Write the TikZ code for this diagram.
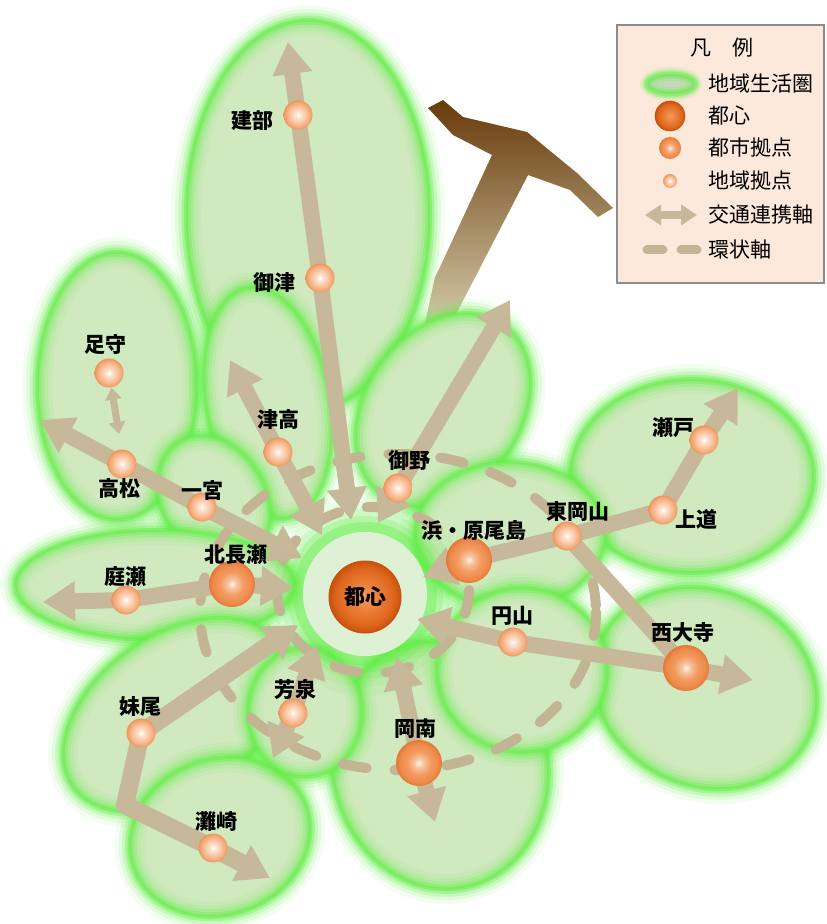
\documentclass[tikz,border=0pt]{standalone}
\usepackage{fontspec}
\newfontfamily\jp{Noto Sans CJK JP}
\usetikzlibrary{arrows.meta}

% palette
\definecolor{zonefill}{HTML}{D0E9BF}
\definecolor{zoneglow}{HTML}{62EE46}
\definecolor{corefill}{HTML}{DFF1D5}
\definecolor{axiscol}{HTML}{C6B898}
\definecolor{ringcol}{HTML}{C3B494}
\definecolor{legendbg}{HTML}{FDE9DC}
\definecolor{legendline}{HTML}{8C8C8C}
\definecolor{hilltop}{HTML}{683A0A}
\definecolor{hillbottom}{HTML}{D3C9A8}
\definecolor{coreA}{HTML}{F29A5E}
\definecolor{coreB}{HTML}{EA7C36}
\definecolor{coreC}{HTML}{DE661C}
\definecolor{coreD}{HTML}{C7520E}
\definecolor{cityA}{HTML}{FFF3EA}
\definecolor{cityB}{HTML}{F8C3A0}
\definecolor{cityC}{HTML}{F29B60}
\definecolor{cityD}{HTML}{EE8A4A}
\definecolor{cityE}{HTML}{E27838}
\definecolor{localA}{HTML}{FFFFFF}
\definecolor{localB}{HTML}{FDE5D4}
\definecolor{localC}{HTML}{F9C4A0}
\definecolor{localD}{HTML}{F3A672}
\definecolor{localE}{HTML}{EB955C}

% spherical look of the three kinds of centres
\pgfdeclareradialshading{coreshade}{\pgfpoint{0bp}{0bp}}{%
  color(0bp)=(coreA); color(11bp)=(coreB); color(20bp)=(coreC); color(25bp)=(coreD); color(50bp)=(coreD)}
\pgfdeclareradialshading{cityshade}{\pgfpoint{0bp}{0bp}}{%
  color(0bp)=(cityA); color(5bp)=(cityB); color(13bp)=(cityC); color(21bp)=(cityD); color(25bp)=(cityE); color(50bp)=(cityE)}
\pgfdeclareradialshading{localshade}{\pgfpoint{0bp}{0bp}}{%
  color(0bp)=(localA); color(5bp)=(localB); color(14bp)=(localC); color(22bp)=(localD); color(25bp)=(localE); color(50bp)=(localE)}

\pgfdeclarelayer{zones}
\pgfdeclarelayer{axes}
\pgfsetlayers{zones,axes,main}

% a living zone: filled ellipse with a soft green rim
% #1,#2 centre  #3,#4 radii  #5 rotation
\newcommand\lifezone[5]{%
  \fill[zonefill, rotate around={#5:(#1,#2)}] (#1,#2) ellipse ({#3} and {#4});
  \foreach \lw/\op in {15pt/.07,11pt/.12,7.5pt/.2,4.5pt/.32,2pt/.5}
    \draw[zoneglow, line width=\lw, opacity=\op, rotate around={#5:(#1,#2)}] (#1,#2) ellipse ({#3} and {#4});
}

\begin{document}
\begin{tikzpicture}[x=0.5pt, y=-0.5pt,
  labeltext/.style={font=\jp\bfseries\fontsize{10.5}{12}\selectfont, inner sep=0pt},
  keytext/.style={font=\jp\fontsize{10.5}{12}\selectfont, inner sep=0pt, anchor=west},
  corenode/.style={circle, minimum size=36pt, inner sep=0pt, shading=coreshade, draw=coreD, line width=0.5pt, labeltext},
  citynode/.style={circle, minimum size=23pt, inner sep=0pt, shading=cityshade},
  localnode/.style={circle, minimum size=14.5pt, inner sep=0pt, shading=localshade},
  linkaxis/.style={draw=axiscol, line width=8pt, line join=round, >={Triangle[width=19pt,length=16pt]}},
  ringaxis/.style={draw=ringcol, line width=5pt, line cap=round, dash pattern=on 12pt off 14pt},
]
\useasboundingbox (0,0) rectangle (826,924);

% ---------------- centres ----------------
\node[corenode] (toshin) at (365,597) {都心};
\node[citynode] (kitanagase) at (232,584) {};
\node[citynode] (hama) at (469,560) {};
\node[citynode] (saidaiji) at (686,668) {};
\node[citynode] (konan) at (419,763) {};
\node[localnode] (takebe) at (298,115) {};
\node[localnode] (mitsu) at (320,278) {};
\node[localnode] (ashimori) at (109,373) {};
\node[localnode] (takamatsu) at (122,464) {};
\node[localnode] (ichinomiya) at (202,507) {};
\node[localnode] (tsudaka) at (278,452) {};
\node[localnode] (niwase) at (126,600) {};
\node[localnode] (mino) at (398,488) {};
\node[localnode] (higashiokayama) at (567,536) {};
\node[localnode] (joto) at (663,510) {};
\node[localnode] (seto) at (704,440) {};
\node[localnode] (maruyama) at (513,642) {};
\node[localnode] (hosen) at (293,713) {};
\node[localnode] (seno) at (141,733) {};
\node[localnode] (nadasaki) at (213,848) {};

% ---------------- names ----------------
\node[labeltext] (takebe-name) at (252,121) {建部};
\node[labeltext] (mitsu-name) at (274,283) {御津};
\node[labeltext] (ashimori-name) at (105,345) {足守};
\node[labeltext] (takamatsu-name) at (119,489) {高松};
\node[labeltext] (ichinomiya-name) at (202,490) {一宮};
\node[labeltext] (tsudaka-name) at (278,420) {津高};
\node[labeltext] (kitanagase-name) at (236,555) {北長瀬};
\node[labeltext] (niwase-name) at (125,577) {庭瀬};
\node[labeltext] (mino-name) at (409,461) {御野};
\node[labeltext] (hama-name) at (474,531) {浜・原尾島};
\node[labeltext] (higashiokayama-name) at (578,512) {東岡山};
\node[labeltext] (seto-name) at (673,428) {瀬戸};
\node[labeltext] (joto-name) at (696,519) {上道};
\node[labeltext] (maruyama-name) at (512,616) {円山};
\node[labeltext] (saidaiji-name) at (683,632) {西大寺};
\node[labeltext] (hosen-name) at (295,689) {芳泉};
\node[labeltext] (seno-name) at (140,707) {妹尾};
\node[labeltext] (konan-name) at (415,729) {岡南};
\node[labeltext] (nadasaki-name) at (216,822) {灘崎};

% ---------------- free ends of the axes ----------------
\coordinate (end-takebe) at (288,42);
\coordinate (end-takebe-in) at (351,520);
\coordinate (end-tsudaka) at (230,360);
\coordinate (end-tsudaka-in) at (322,535);
\coordinate (end-takamatsu) at (40,420);
\coordinate (end-takamatsu-in) at (302,558);
\coordinate (end-ashimori) at (119,434);
\coordinate (end-niwase) at (43,602);
\coordinate (end-niwase-in) at (293,588);
\coordinate (end-seno-in) at (298,625);
\coordinate (bend-seno) at (125,805);
\coordinate (end-nadasaki) at (270,878);
\coordinate (end-hosen-in) at (317,645);
\coordinate (end-hosen) at (273,758);
\coordinate (end-konan-in) at (397,657);
\coordinate (end-konan) at (435,822);
\coordinate (end-maruyama-in) at (417,619);
\coordinate (end-saidaiji) at (753,680);
\coordinate (end-hama-in) at (423,577);
\coordinate (end-seto) at (738,388);
\coordinate (end-mino) at (510,300);
\coordinate (end-mino-in) at (378,523);

% ---------------- living zones ----------------
\begin{pgfonlayer}{zones}
  \fill[white] (0,0) rectangle (826,924);
  % hills to the north
  \shade[top color=hilltop, bottom color=hillbottom]
    (428,108) -- (443,100) -- (463,117) -- (527,132) -- (577,173) -- (613,208)
    -- (598,217) -- (570,190) -- (528,175) -- (453,320) -- (425,323)
    -- (435,277) -- (440,267) -- (492,155) -- (453,135) -- cycle;
  \lifezone{308}{215}{122}{195}{0}
  \lifezone{117}{386}{80}{134}{0}
  \lifezone{268}{403}{62}{117}{10}
  \lifezone{214}{500}{52}{68}{30}
  \lifezone{155}{585}{140}{55}{0}
  \lifezone{443}{410}{105}{78}{55}
  \lifezone{692}{476}{122}{97}{0}
  \lifezone{705}{688}{115}{98}{-25}
  \lifezone{440}{765}{108}{125}{12}
  \lifezone{175}{715}{125}{80}{35}
  \lifezone{220}{837}{92}{78}{20}
  \lifezone{305}{712}{57}{65}{0}
  \lifezone{510}{535}{95}{73}{0}
  \lifezone{522}{670}{85}{82}{0}
  % the city-centre zone
  \foreach \lw/\op in {36pt/.07,27pt/.11,19pt/.16,12pt/.24,6pt/.35}
    \draw[zoneglow, line width=\lw, opacity=\op] (365,594) circle (66);
  \fill[corefill] (365,594) circle (62);
\end{pgfonlayer}

% ---------------- ring axes and link axes ----------------
\begin{pgfonlayer}{axes}
  \draw[ringaxis] (398,612) ellipse (198 and 158);
  \draw[ringaxis] (373,590) ellipse (96 and 83);

  \draw[linkaxis,<->] (end-takebe) -- (takebe.center) -- (mitsu.center) -- (end-takebe-in);
  \draw[linkaxis,<->] (end-tsudaka) -- (tsudaka.center) -- (end-tsudaka-in);
  \draw[linkaxis,<->] (end-takamatsu) -- (takamatsu.center) -- (ichinomiya.center) -- (end-takamatsu-in);
  \draw[linkaxis,<->, line width=3.5pt, >={Triangle[width=8pt,length=6pt]}] (ashimori) -- (end-ashimori);
  \draw[linkaxis,<->] (end-niwase) -- (niwase.center) -- (kitanagase.center) -- (end-niwase-in);
  \draw[linkaxis,<->, line width=9pt] (end-seno-in) -- (seno.center) -- (bend-seno) -- (nadasaki.center) -- (end-nadasaki);
  \draw[linkaxis,<->] (end-hosen) -- (hosen.center) -- (end-hosen-in);
  \draw[linkaxis,<->] (end-konan-in) -- (konan.center) -- (end-konan);
  \draw[linkaxis,<->] (end-maruyama-in) -- (maruyama.center) -- (saidaiji.center) -- (end-saidaiji);
  \draw[linkaxis,<->] (end-hama-in) -- (hama.center) -- (higashiokayama.center) -- (joto.center) -- (seto.center) -- (end-seto);
  \draw[linkaxis] (higashiokayama.center) -- (saidaiji.center);
  \draw[linkaxis,<->] (end-mino) -- (mino.center) -- (end-mino-in);
\end{pgfonlayer}

% ---------------- legend ----------------
\node[draw=legendline, fill=legendbg, line width=0.6pt, minimum width=103.5pt,
      minimum height=129pt, inner sep=0pt] (legend) at (720.5,154) {};
\node[keytext, anchor=center] (key-title) at (722,48) {凡\hspace{1em}例};

\fill[zonefill!85!gray] (671,84) ellipse (24 and 10);
\foreach \lw/\op in {7pt/.15,4.5pt/.3,2.5pt/.5}
  \draw[zoneglow, line width=\lw, opacity=\op] (671,84) ellipse (24 and 10);
\node[keytext] (key-zone) at (708,84) {地域生活圏};

\node[corenode, minimum size=15pt, line width=0.3pt] (key-core-mark) at (670,116) {};
\node[keytext] (key-core) at (708,116) {都心};
\node[citynode, minimum size=11pt] (key-city-mark) at (670,148) {};
\node[keytext] (key-city) at (708,148) {都市拠点};
\node[localnode, minimum size=7pt] (key-local-mark) at (670,181) {};
\node[keytext] (key-local) at (708,181) {地域拠点};

\coordinate (key-axis-a) at (645,215);
\coordinate (key-axis-b) at (697,215);
\draw[linkaxis,<->, line width=4pt, >={Triangle[width=10pt,length=8pt]}] (key-axis-a) -- (key-axis-b);
\node[keytext] (key-axis) at (708,215) {交通連携軸};

\coordinate (key-ring-a) at (647,250);
\coordinate (key-ring-b) at (697,250);
\draw[ringaxis, line width=4.5pt, dash pattern=on 8pt off 9pt] (key-ring-a) -- (key-ring-b);
\node[keytext] (key-ring) at (708,250) {環状軸};
\end{tikzpicture}
\end{document}
